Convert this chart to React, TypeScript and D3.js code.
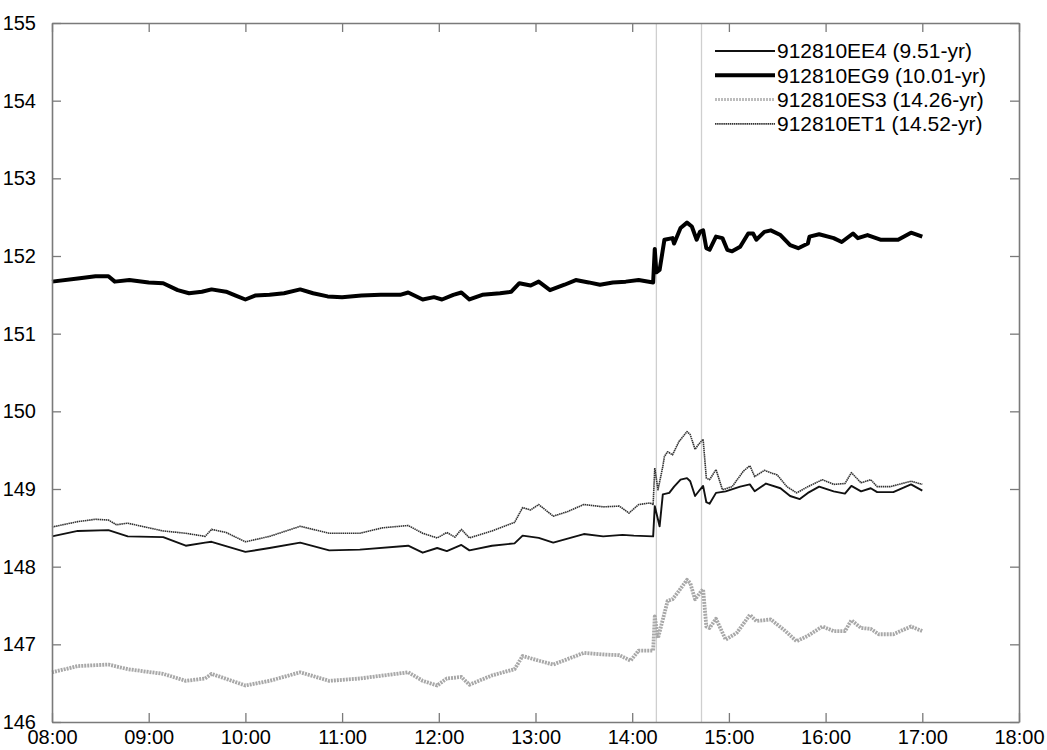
import React, { useEffect, useRef } from 'react';
import * as d3 from 'd3';

// chart size and plot box
const width = 1047;
const height = 750;
const margin = { top: 23, right: 28, bottom: 28, left: 52 };

// time is kept in minutes after 08:00
const hourLabels = ['08:00', '09:00', '10:00', '11:00', '12:00', '13:00', '14:00', '15:00', '16:00', '17:00', '18:00'];
const yTicks = [146, 147, 148, 149, 150, 151, 152, 153, 154, 155];
const eventTimes = [375, 403]; // 14:15 and 14:43

const seriesNames = ['912810EE4 (9.51-yr)', '912810EG9 (10.01-yr)', '912810ES3 (14.26-yr)', '912810ET1 (14.52-yr)'];

const EE4: [number, number][] = [
  [0, 148.39], [16, 148.46], [35, 148.47], [47, 148.39], [69, 148.38], [83, 148.27], [95, 148.31], [99, 148.32],
  [120, 148.19], [135, 148.24], [154, 148.31], [172, 148.21], [191, 148.22], [221, 148.27], [230, 148.18], [239, 148.24],
  [245, 148.2], [254, 148.28], [259, 148.21], [273, 148.27], [287, 148.3], [292, 148.4], [302, 148.37], [311, 148.31],
  [330, 148.42], [342, 148.39], [354, 148.41], [361, 148.4], [373, 148.39], [374, 148.78], [377, 148.52], [379, 148.93],
  [383, 148.95], [386, 149.03], [390, 149.12], [394, 149.14], [396, 149.1], [399, 148.91], [402, 148.99], [404, 149.04],
  [406, 148.83], [408, 148.81], [412, 148.95], [418, 148.97], [427, 149.03], [433, 149.06], [436, 148.97], [443, 149.07],
  [452, 149.01], [458, 148.91], [464, 148.87], [469, 148.95], [476, 149.03], [485, 148.97], [492, 148.94], [496, 149.04],
  [502, 148.97], [508, 149.01], [512, 148.96], [522, 148.96], [533, 149.06], [540, 148.98],
];

const EG9: [number, number][] = [
  [0, 151.67], [16, 151.71], [27, 151.74], [35, 151.74], [39, 151.67], [48, 151.69], [60, 151.66], [69, 151.65],
  [78, 151.56], [85, 151.52], [93, 151.54], [99, 151.57], [108, 151.54], [114, 151.49], [120, 151.44], [126, 151.49],
  [135, 151.5], [144, 151.52], [154, 151.57], [162, 151.52], [171, 151.48], [180, 151.47], [192, 151.49], [204, 151.5],
  [216, 151.5], [221, 151.53], [230, 151.44], [237, 151.47], [242, 151.44], [249, 151.5], [254, 151.53], [259, 151.44],
  [267, 151.5], [278, 151.52], [285, 151.54], [290, 151.65], [297, 151.62], [302, 151.67], [309, 151.56], [318, 151.63],
  [325, 151.69], [333, 151.66], [340, 151.63], [348, 151.66], [356, 151.67], [364, 151.69], [373, 151.66], [374, 152.09],
  [375, 151.79], [377, 151.82], [380, 152.21], [385, 152.23], [386, 152.16], [390, 152.36], [394, 152.43], [397, 152.38],
  [400, 152.21], [402, 152.31], [404, 152.33], [406, 152.1], [408, 152.08], [412, 152.25], [416, 152.23], [419, 152.08],
  [422, 152.06], [427, 152.12], [432, 152.29], [435, 152.29], [437, 152.21], [442, 152.31], [446, 152.33], [452, 152.27],
  [458, 152.14], [463, 152.1], [469, 152.16], [470, 152.25], [476, 152.28], [485, 152.23], [490, 152.18], [497, 152.29],
  [500, 152.23], [506, 152.27], [514, 152.21], [525, 152.21], [533, 152.3], [540, 152.25],
];

const ES3: [number, number][] = [
  [0, 146.64], [16, 146.72], [35, 146.74], [47, 146.68], [69, 146.62], [83, 146.53], [95, 146.56], [99, 146.62],
  [120, 146.47], [135, 146.53], [154, 146.64], [172, 146.53], [191, 146.56], [221, 146.64], [230, 146.53], [239, 146.47],
  [245, 146.56], [254, 146.58], [259, 146.48], [273, 146.6], [287, 146.68], [292, 146.85], [302, 146.79], [311, 146.74],
  [330, 146.89], [342, 146.87], [352, 146.86], [359, 146.79], [364, 146.92], [373, 146.92], [374, 147.36], [376, 147.08],
  [379, 147.32], [382, 147.56], [385, 147.58], [388, 147.66], [394, 147.83], [396, 147.79], [399, 147.58], [402, 147.66],
  [404, 147.71], [406, 147.23], [408, 147.21], [412, 147.33], [418, 147.06], [425, 147.15], [433, 147.38], [437, 147.3],
  [446, 147.32], [454, 147.19], [462, 147.04], [469, 147.11], [478, 147.23], [485, 147.17], [492, 147.17], [496, 147.31],
  [502, 147.21], [508, 147.2], [513, 147.13], [522, 147.13], [533, 147.23], [540, 147.17],
];

const ET1: [number, number][] = [
  [0, 148.51], [16, 148.58], [27, 148.61], [35, 148.6], [40, 148.54], [47, 148.56], [60, 148.5], [69, 148.46],
  [83, 148.43], [95, 148.39], [99, 148.48], [108, 148.44], [120, 148.32], [135, 148.39], [154, 148.52], [172, 148.43],
  [191, 148.43], [205, 148.5], [221, 148.53], [230, 148.43], [239, 148.37], [245, 148.44], [250, 148.38], [254, 148.48],
  [259, 148.37], [273, 148.46], [287, 148.57], [292, 148.76], [297, 148.73], [302, 148.8], [311, 148.65], [320, 148.71],
  [330, 148.8], [342, 148.77], [352, 148.78], [358, 148.69], [364, 148.8], [371, 148.82], [373, 148.8], [374, 149.27],
  [376, 148.99], [379, 149.29], [380, 149.42], [382, 149.48], [385, 149.44], [389, 149.61], [394, 149.74], [396, 149.7],
  [399, 149.51], [401, 149.57], [404, 149.64], [406, 149.14], [408, 149.12], [412, 149.25], [416, 148.99], [422, 149.03],
  [429, 149.23], [433, 149.3], [436, 149.16], [442, 149.24], [450, 149.18], [456, 149.03], [462, 148.95], [469, 149.03],
  [478, 149.12], [485, 149.06], [492, 149.07], [496, 149.21], [502, 149.08], [508, 149.12], [512, 149.03], [520, 149.03],
  [533, 149.1], [540, 149.06],
];

const seriesData = [EE4, EG9, ES3, ET1];
const seriesStyle = [
  { color: '#111', width: 1.9, dash: null },
  { color: '#000', width: 4, dash: null },
  { color: '#a8a8a8', width: 3.8, dash: '2 1' },
  { color: '#333', width: 1.6, dash: '1.5 0.6' },
];

const FONT = '"Liberation Sans", Arial, Helvetica, sans-serif';

const App = () => {
  const ref = useRef<SVGSVGElement>(null);

  useEffect(() => {
    const svg = d3.select(ref.current);
    svg.selectAll('*').remove();

    const x = d3.scaleLinear().domain([0, 600]).range([margin.left, width - margin.right]);
    const y = d3.scaleLinear().domain([146, 155]).range([height - margin.bottom, margin.top]);
    const frame = '#7a7a7a';

    // event markers
    svg.append('g').selectAll('line')
      .data(eventTimes)
      .enter().append('line')
      .attr('x1', d => x(d)).attr('x2', d => x(d))
      .attr('y1', y(155)).attr('y2', y(146))
      .attr('stroke', '#cfcfcf')
      .attr('stroke-width', 1.3);

    // series lines
    const line = d3.line<[number, number]>().x(d => x(d[0])).y(d => y(d[1]));
    svg.append('g').selectAll('path')
      .data(seriesData)
      .enter().append('path')
      .attr('d', d => line(d))
      .attr('fill', 'none')
      .attr('stroke', (d, i) => seriesStyle[i].color)
      .attr('stroke-width', (d, i) => seriesStyle[i].width)
      .attr('stroke-dasharray', (d, i) => seriesStyle[i].dash)
      .attr('stroke-linejoin', 'round');

    // axes, ticks pointing inwards on all four sides
    const xTickVals = hourLabels.map((d, i) => i * 60);
    const bottom = svg.append('g')
      .attr('transform', `translate(0, ${height - margin.bottom})`)
      .call(d3.axisBottom(x).tickValues(xTickVals).tickSizeInner(-9).tickSizeOuter(0).tickPadding(8)
        .tickFormat((d, i) => hourLabels[i]));
    const top = svg.append('g')
      .attr('transform', `translate(0, ${margin.top})`)
      .call(d3.axisTop(x).tickValues(xTickVals).tickSizeInner(-9).tickSizeOuter(0).tickFormat(() => ''));
    const left = svg.append('g')
      .attr('transform', `translate(${margin.left}, 0)`)
      .call(d3.axisLeft(y).tickValues(yTicks).tickSizeInner(-9).tickSizeOuter(0).tickPadding(16)
        .tickFormat(d => `${d}`));
    const right = svg.append('g')
      .attr('transform', `translate(${width - margin.right}, 0)`)
      .call(d3.axisRight(y).tickValues(yTicks).tickSizeInner(-9).tickSizeOuter(0).tickFormat(() => ''));

    [bottom, top, left, right].forEach(g => {
      g.selectAll('.domain').attr('stroke', frame).attr('stroke-width', 1.6);
      g.selectAll('.tick line').attr('stroke', frame).attr('stroke-width', 1.3);
      g.selectAll('text').attr('fill', '#000').style('font-family', FONT).style('font-size', '20px');
    });
    bottom.selectAll('text').attr('dy', '0.71em');

    // legend, no box; first row sits below the top ticks
    const legend = svg.append('g').attr('transform', 'translate(715, 51)');
    const rows = legend.selectAll('g')
      .data(seriesNames)
      .enter().append('g')
      .attr('transform', (d, i) => `translate(0, ${i * 24.3})`);
    rows.append('line')
      .attr('x1', 0).attr('x2', 60)
      .attr('stroke', (d, i) => i === 2 ? '#bdbdbd' : seriesStyle[i].color)
      .attr('stroke-width', (d, i) => i === 2 ? 3 : seriesStyle[i].width)
      .attr('stroke-dasharray', (d, i) => seriesStyle[i].dash);
    rows.append('text')
      .attr('x', 62)
      .attr('dy', '0.35em')
      .style('font-family', FONT)
      .style('font-size', '21px')
      .text(d => d);
  }, []);

  return (
    <svg ref={ref} width={width} height={height}
      style={{ position: 'fixed', left: 0, top: 0, background: '#fff' }} />
  );
};

export default App;
